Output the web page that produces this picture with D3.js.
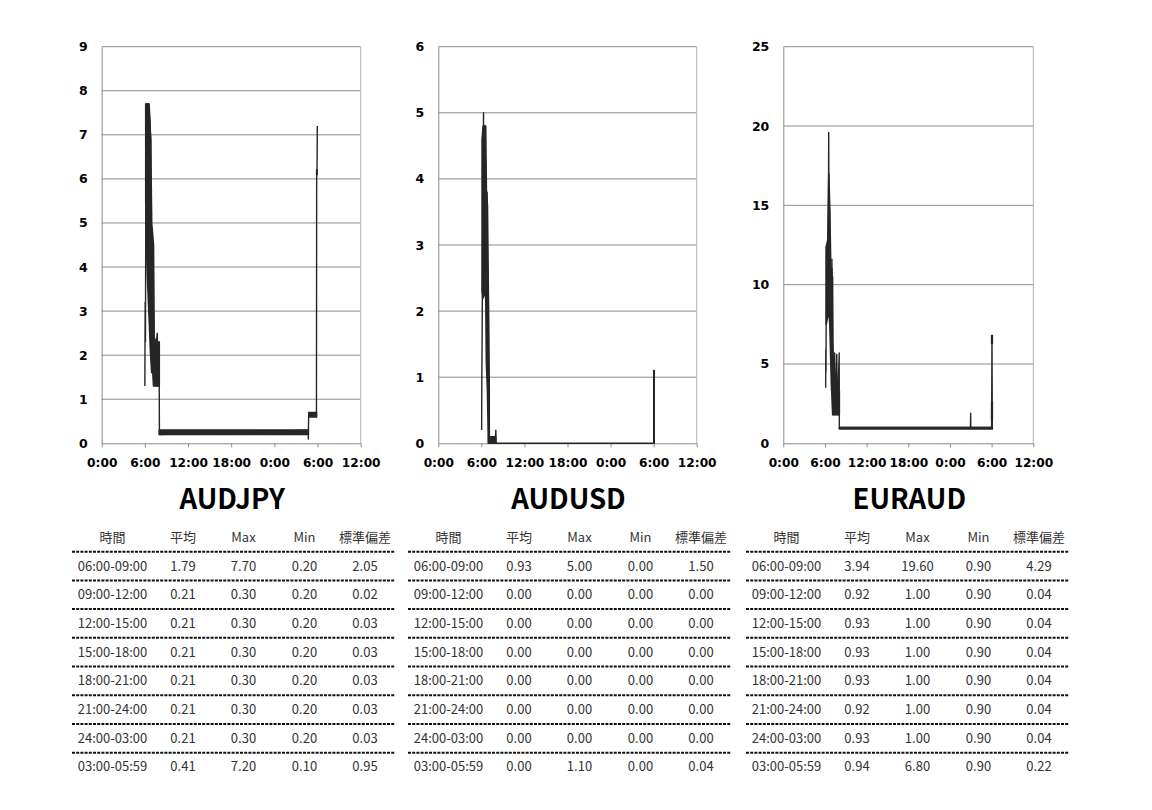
<!DOCTYPE html>
<html><head><meta charset="utf-8">
<script src="https://cdn.jsdelivr.net/npm/d3@7"></script>
<style>body{margin:0;background:#fff}svg{display:block}</style>
</head><body><svg id="c" width="1152" height="810"></svg>
<script>
// ---- data ----
const pairs = ["AUDJPY", "AUDUSD", "EURAUD"];
const tickHours = [0, 6, 12, 18, 24, 30, 36];
const tickLabels = ["0:00", "6:00", "12:00", "18:00", "0:00", "6:00", "12:00"];
const yMaxes = [9, 6, 25];
const ySteps = [1, 1, 5];

// [hour, value] polyline points
const audjpyLine = [[6.0,1.3],[6.04,3.2],[6.08,2.3],[6.14,6.0],[6.18,7.7],[6.6,7.7],[6.82,6.9],[6.9,2.0],[7.0,4.7],[7.1,1.6],[7.2,2.4],[7.4,1.3],[7.6,2.3],[7.73,2.5],[7.8,1.3],[7.95,2.3],[8.0,1.3],[8.02,0.2],[28.7,0.3],[28.72,0.1],[28.76,0.6],[28.82,0.7],[29.85,0.6],[29.88,6.1],[29.93,6.2],[29.97,7.2]];
// [hour, low, high] dense ranges
const audjpyBands = [
  [[6.12,5.5,7.7],[6.3,4.0,7.7],[6.55,3.0,7.7],[6.8,2.0,6.9],[6.95,1.6,5.0],[7.1,1.6,4.7],[7.2,1.3,4.5],[7.3,1.3,2.4],[7.55,1.3,2.3],[8.0,1.3,2.3]],
  [[8.0,0.2,0.3],[28.72,0.2,0.3]],
  [[28.8,0.6,0.7],[29.86,0.6,0.7]],
  [[29.88,6.1,6.2],[29.95,6.1,6.2]]
];

const audusdLine = [[6.04,0.2],[6.06,0.9],[6.1,1.5],[6.2,3.5],[6.3,5.0],[6.35,2.3],[6.5,4.8],[6.7,2.5],[6.8,3.8],[6.9,1.2],[6.97,2.2],[7.02,0.0],[7.08,0.8],[7.12,0.0],[7.3,0.1],[7.5,0.0],[7.7,0.1],[7.9,0.0],[8.02,0.2],[8.05,0.0],[30.05,0.0],[30.05,1.1],[30.08,0.0]];
const audusdBands = [
  [[6.1,2.3,4.6],[6.25,2.2,4.8],[6.6,2.3,4.8],[6.7,1.2,3.8],[6.85,0.8,3.6],[6.98,0.0,2.2],[7.1,0.0,0.8]],
  [[7.0,0.0,0.1],[8.0,0.0,0.1]],
  [[30.02,0.0,1.1],[30.08,0.0,1.1]]
];

const euraudLine = [[6.1,3.5],[6.12,5.9],[6.15,4.5],[6.2,12.4],[6.3,9.0],[6.4,12.8],[6.45,8.5],[6.54,19.6],[6.6,9.0],[6.65,14.7],[6.75,8.0],[6.85,10.7],[6.95,3.3],[7.0,11.6],[7.05,3.3],[7.11,10.5],[7.15,1.8],[7.4,5.7],[7.5,1.8],[7.7,5.6],[7.8,1.8],[8.05,5.7],[8.07,1.0],[26.95,1.0],[26.98,1.9],[27.0,1.0],[30.0,1.0],[30.05,6.8],[30.1,1.0]];
const euraudBands = [
  [[6.18,7.5,12.4],[6.4,8.0,12.8],[6.55,8.5,17.0],[6.7,7.5,14.7],[6.85,5.0,10.7],[7.0,3.0,11.0],[7.11,1.8,6.5],[7.3,1.8,3.3],[8.07,1.8,3.3]],
  [[8.07,0.9,1.0],[30.1,0.9,1.0]],
  [[30.0,1.5,2.6],[30.1,1.5,2.6]],
  [[30.0,6.3,6.8],[30.1,6.3,6.8]]
];

const tableHeaders = ["時間", "平均", "Max", "Min", "標準偏差"];
const periods = ["06:00-09:00","09:00-12:00","12:00-15:00","15:00-18:00","18:00-21:00","21:00-24:00","24:00-03:00","03:00-05:59"];
const audjpyStats = [[1.79,7.70,0.20,2.05],[0.21,0.30,0.20,0.02],[0.21,0.30,0.20,0.03],[0.21,0.30,0.20,0.03],[0.21,0.30,0.20,0.03],[0.21,0.30,0.20,0.03],[0.21,0.30,0.20,0.03],[0.41,7.20,0.10,0.95]];
const audusdStats = [[0.93,5.00,0.00,1.50],[0.00,0.00,0.00,0.00],[0.00,0.00,0.00,0.00],[0.00,0.00,0.00,0.00],[0.00,0.00,0.00,0.00],[0.00,0.00,0.00,0.00],[0.00,0.00,0.00,0.00],[0.00,1.10,0.00,0.04]];
const euraudStats = [[3.94,19.60,0.90,4.29],[0.92,1.00,0.90,0.04],[0.93,1.00,0.90,0.04],[0.93,1.00,0.90,0.04],[0.93,1.00,0.90,0.04],[0.92,1.00,0.90,0.04],[0.93,1.00,0.90,0.04],[0.94,6.80,0.90,0.22]];

const lines = [audjpyLine, audusdLine, euraudLine];
const bands = [audjpyBands, audusdBands, euraudBands];
const stats = [audjpyStats, audusdStats, euraudStats];

// ---- layout ----
const svg = d3.select("#c");
const plotLeft = [101.7, 438.3, 783.3];
const plotRight = [360.7, 696.7, 1033.3];
const plotTop = 46.7, plotBottom = 443.3;
const gridColor = "#8c8c8c";
const ink = "#262626";
const tableLeft = [72, 408, 746];
const tableWidth = 323;
const colOffsets = [40.5, 111, 171.5, 232.5, 293];
const headerY = 537, firstLineY = 551.7, rowGap = 28.71, firstRowY = 566;

pairs.forEach((name, i) => {
  const x = d3.scaleLinear().domain([0, 36]).range([plotLeft[i], plotRight[i]]);
  const y = d3.scaleLinear().domain([0, yMaxes[i]]).range([plotBottom, plotTop]);
  const yt = d3.range(0, yMaxes[i] + ySteps[i] / 2, ySteps[i]);
  const g = svg.append("g");

  // gridlines
  g.selectAll(".grid").data(yt.filter(v => v > 0)).join("line")
    .attr("x1", plotLeft[i]).attr("x2", plotRight[i])
    .attr("y1", d => y(d)).attr("y2", d => y(d))
    .attr("stroke", gridColor).attr("stroke-width", 1);
  // right border
  g.append("line").attr("x1", plotRight[i]).attr("x2", plotRight[i])
    .attr("y1", plotTop).attr("y2", plotBottom).attr("stroke", "#b5b5b5");

  // y axis
  const ya = g.append("g").attr("transform", `translate(${plotLeft[i]},0)`)
    .call(d3.axisLeft(y).tickValues(yt).tickFormat(d3.format("d")).tickSize(0).tickPadding(14));
  ya.select(".domain").attr("stroke", gridColor);
  ya.selectAll("text").attr("font-family", "DejaVu Sans").attr("font-weight", "bold")
    .attr("font-size", 12.5).attr("fill", "#000");

  // x axis
  const xa = g.append("g").attr("transform", `translate(0,${plotBottom})`)
    .call(d3.axisBottom(x).tickValues(tickHours).tickFormat((d, k) => tickLabels[k])
      .tickSize(4).tickSizeOuter(0).tickPadding(11));
  xa.select(".domain").attr("stroke", gridColor);
  xa.selectAll(".tick line").attr("stroke", gridColor);
  xa.selectAll("text").attr("font-family", "DejaVu Sans").attr("font-weight", "bold")
    .attr("font-size", 12.2).attr("fill", "#000");

  // series
  const area = d3.area().x(d => x(d[0])).y0(d => y(d[1])).y1(d => y(d[2]));
  g.selectAll(".band").data(bands[i]).join("path")
    .attr("d", area).attr("fill", ink).attr("stroke", ink).attr("stroke-width", 1.6)
    .attr("stroke-linejoin", "round");
  const line = d3.line().x(d => x(d[0])).y(d => y(d[1]));
  g.append("path").datum(lines[i]).attr("d", line).attr("fill", "none")
    .attr("stroke", ink).attr("stroke-width", 1.4).attr("stroke-linejoin", "round");

  // title
  svg.append("text").attr("x", (plotLeft[i] + plotRight[i]) / 2 + 1).attr("y", 509)
    .attr("text-anchor", "middle").attr("font-family", "Noto Sans CJK JP")
    .attr("font-weight", 700).attr("font-size", 27.5).attr("fill", "#000").text(name);

  // table
  const tg = svg.append("g").attr("font-family", "Noto Sans CJK JP").attr("font-size", 13)
    .attr("fill", "#333").attr("text-anchor", "middle");
  tg.selectAll(".h").data(tableHeaders).join("text")
    .attr("x", (d, k) => tableLeft[i] + colOffsets[k]).attr("y", headerY + 4.8).text(d => d);
  tg.selectAll(".sep").data(d3.range(periods.length)).join("line")
    .attr("x1", tableLeft[i]).attr("x2", tableLeft[i] + tableWidth)
    .attr("y1", k => firstLineY + k * rowGap).attr("y2", k => firstLineY + k * rowGap)
    .attr("stroke", "#111").attr("stroke-width", 2).attr("stroke-dasharray", "3,1.2");
  periods.forEach((p, r) => {
    const cells = [p].concat(stats[i][r].map(v => v.toFixed(2)));
    tg.selectAll(null).data(cells).join("text")
      .attr("x", (d, k) => tableLeft[i] + colOffsets[k])
      .attr("y", firstRowY + r * 28.67 + 4.8).text(d => d);
  });
});
</script></body></html>
